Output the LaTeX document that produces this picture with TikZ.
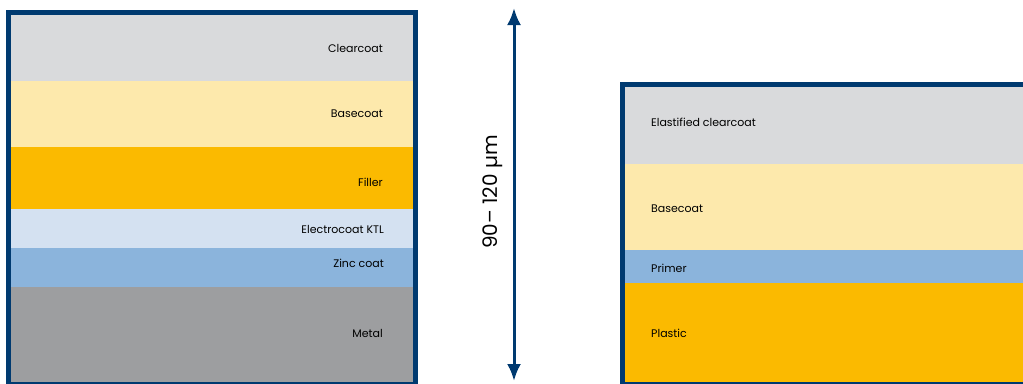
\documentclass[tikz,border=0pt]{standalone}
\usepackage{fontspec}
\setmainfont{Poppins}
\usetikzlibrary{arrows.meta, positioning}

\definecolor{frameblue}{HTML}{003A70}
\definecolor{clearcol}{HTML}{D9DADC}
\definecolor{basecol}{HTML}{FDE9AC}
\definecolor{fillercol}{HTML}{FBBA00}
\definecolor{electrocol}{HTML}{D4E1F1}
\definecolor{zinccol}{HTML}{8BB4DC}
\definecolor{metalcol}{HTML}{9D9EA0}

\tikzset{
  layerlabel/.style={font=\fontsize{11}{13}\selectfont, inner sep=0pt, text=black},
  sampleframe/.style={draw=frameblue, line width=5pt},
}

\begin{document}
\begin{tikzpicture}[x=1pt, y=-1pt]
  \useasboundingbox (0,0) rectangle (1023,383);
  % metal substrate
  \fill[clearcol] (11,15) rectangle (413,81);
  \fill[basecol] (11,81) rectangle (413,147);
  \fill[fillercol] (11,147) rectangle (413,209);
  \fill[electrocol] (11,209) rectangle (413,248);
  \fill[zinccol] (11,248) rectangle (413,287);
  \fill[metalcol] (11,287) rectangle (413,382);
  \draw[sampleframe] (8.5,12.5) rectangle (415.5,384.5);
  \node[layerlabel, anchor=east] (clear) at (383,48) {Clearcoat};
  \node[layerlabel, anchor=east] (base) at (383,114) {Basecoat};
  \node[layerlabel, anchor=east] (filler) at (383,182) {Filler};
  \node[layerlabel, anchor=east] (electro) at (384,229) {Electrocoat KTL};
  \node[layerlabel, anchor=east] (zinc) at (384,263) {Zinc coat};
  \node[layerlabel, anchor=east] (metal) at (383,333) {Metal};

  % thickness
  \coordinate (top) at (514,8);
  \coordinate (bottom) at (514,381);
  \draw[frameblue, line width=3pt, {Latex[length=17pt,width=14pt]}-{Latex[length=17pt,width=14pt]}] (top) -- (bottom);
  \node[rotate=90, font=\fontsize{20}{24}\selectfont, inner sep=0pt] (thick) at (493,192) {90– 120 µm};

  % plastic substrate
  \fill[clearcol] (625,87) rectangle (1023,164);
  \fill[basecol] (625,164) rectangle (1023,250);
  \fill[zinccol] (625,250) rectangle (1023,283);
  \fill[fillercol] (625,283) rectangle (1023,382);
  \draw[sampleframe] (622.5,84.5) rectangle (1030,384.5);
  \node[layerlabel, anchor=west] (elast) at (651,122) {Elastified clearcoat};
  \node[layerlabel, anchor=west] (base2) at (651,209) {Basecoat};
  \node[layerlabel, anchor=west] (primer) at (651,268) {Primer};
  \node[layerlabel, anchor=west] (plastic) at (651,333) {Plastic};
\end{tikzpicture}
\end{document}
